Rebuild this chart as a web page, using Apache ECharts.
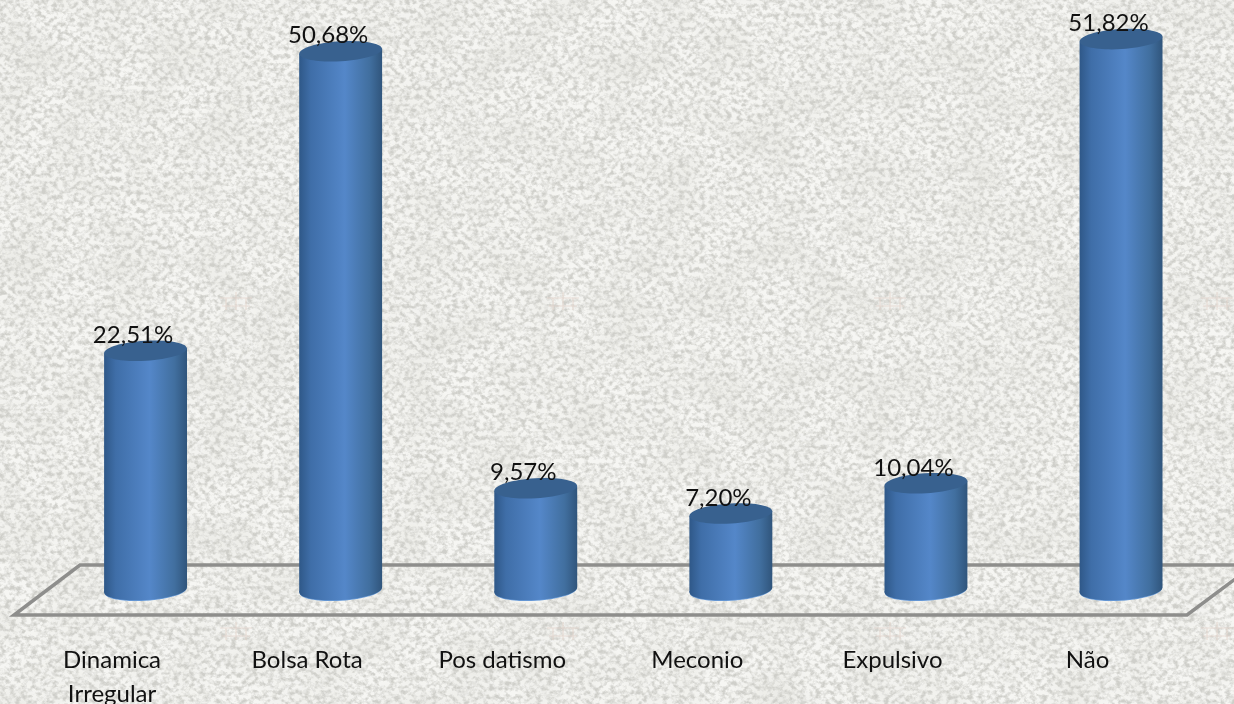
<!DOCTYPE html>
<html><head><meta charset="utf-8">
<style>
html,body{margin:0;padding:0;width:1234px;height:704px;overflow:hidden;background:#f3f3f0}
#bg{position:absolute;left:0;top:0;width:1234px;height:704px}
#main{position:absolute;left:0;top:0;width:1234px;height:704px}
</style>
<script src="https://cdn.jsdelivr.net/npm/echarts@6/dist/echarts.min.js"></script>
</head><body>
<svg id="bg" xmlns="http://www.w3.org/2000/svg">
  <defs>
    <filter id="tex" x="0" y="0" width="100%" height="100%" color-interpolation-filters="sRGB">
      <feTurbulence type="fractalNoise" baseFrequency="0.19 0.22" numOctaves="3" seed="7"/>
      <feColorMatrix type="matrix" values="0 0 0 0 0  0 0 0 0 0  0 0 0 0 0  1 0 0 0 0"/>
      <feComponentTransfer><feFuncA type="linear" slope="3.0" intercept="-1.2"/></feComponentTransfer>
      <feComposite in="SourceGraphic" operator="in"/>
      <feGaussianBlur stdDeviation="0.7"/>
    </filter>
    <filter id="mottle" x="0" y="0" width="100%" height="100%" color-interpolation-filters="sRGB">
      <feTurbulence type="fractalNoise" baseFrequency="0.02 0.025" numOctaves="2" seed="3"/>
      <feColorMatrix type="matrix" values="0 0 0 0 0  0 0 0 0 0  0 0 0 0 0  1 0 0 0 0"/>
      <feComponentTransfer><feFuncA type="linear" slope="1.6" intercept="-0.6"/></feComponentTransfer>
      <feComposite in="SourceGraphic" operator="in"/>
    </filter>
    <pattern id="wm" x="70" y="-20" width="327" height="330" patternUnits="userSpaceOnUse">
      <g fill="none" stroke="#e3d3cb" stroke-width="1.2" opacity="0.7">
        <path d="M150 318H182M152 326H180M156 318V346M176 318V346M150 346H182M166 312V352M156 334H176"/>
      </g>
    </pattern>
  </defs>
  <rect width="1234" height="704" fill="#f6f6f3"/>
  <rect width="1234" height="704" fill="#e8e8e3" filter="url(#mottle)"/>
  <rect width="1234" height="704" fill="#cfcfca" filter="url(#tex)"/>
  <rect width="1234" height="704" fill="url(#wm)"/>
</svg>
<div id="main"></div>
<script>
var categories = ['Dinamica\nIrregular', 'Bolsa Rota', 'Pos datismo', 'Meconio', 'Expulsivo', 'Não'];
var values = [22.51, 50.68, 9.57, 7.20, 10.04, 51.82];
var axisMax = 55;

var chart = echarts.init(document.getElementById('main'), null, {renderer: 'canvas'});
var bodyFill = new echarts.graphic.LinearGradient(0, 0, 1, 0, [
  {offset: 0, color: '#2f5888'},
  {offset: 0.14, color: '#3f6ea8'},
  {offset: 0.55, color: '#5487c9'},
  {offset: 0.85, color: '#416f9f'},
  {offset: 1, color: '#30557c'}
]);
function cylinder(params, api) {
  var i = api.value(0), v = api.value(1);
  var top = api.coord([i, v]), base = api.coord([i, 0]);
  var hw = api.size([1, 0])[0] * 0.2125, ry = 10, tilt = 0.06;
  var x0 = top[0] - hw, x1 = top[0] + hw, dy = hw * Math.tan(tilt);
  var label = v.toFixed(2).replace('.', ',') + '%';
  return {
    type: 'group',
    children: [
      {type: 'ellipse', shape: {cx: 0, cy: 0, rx: hw - 0.5, ry: ry}, x: base[0], y: base[1] + 0.8, rotation: tilt,
       style: {fill: '#6c9edb'}},
      {type: 'ellipse', shape: {cx: 0, cy: 0, rx: hw, ry: ry}, x: base[0], y: base[1], rotation: tilt,
       style: {fill: bodyFill}},
      {type: 'polygon', shape: {points: [[x0, top[1] + dy], [x0, base[1] + dy], [x1, base[1] - dy], [x1, top[1] - dy]]},
       style: {fill: bodyFill}},
      {type: 'ellipse', shape: {cx: 0, cy: 0, rx: hw, ry: ry}, x: top[0], y: top[1], rotation: tilt,
       style: {fill: '#38618f'}},
      {type: 'text', x: top[0] - 12.5, y: top[1] - 15.5, z2: 10,
       style: {text: label, font: '24px Lato', fill: '#111', align: 'center', verticalAlign: 'middle'}}
    ]
  };
}
chart.setOption({
  animation: false,
  backgroundColor: 'transparent',
  graphic: [{
    type: 'polygon', z: 0, silent: true,
    shape: {points: [[14, 615], [1187, 615], [1254, 565], [80, 565]]},
    style: {fill: 'none', stroke: '#8e8e8c', lineWidth: 3.5}
  }],
  grid: {left: 48, right: 15.4, top: 5.3, bottom: 114, outerBoundsMode: 'none'},
  xAxis: {
    type: 'category', data: categories,
    axisLine: {show: false}, axisTick: {show: false}, splitLine: {show: false},
    axisLabel: {interval: 0, hideOverlap: false, margin: 53, padding: [0, 67, 0, 0], color: '#111', fontFamily: 'Lato', fontSize: 24, lineHeight: 34, align: 'center', verticalAlign: 'top'}
  },
  yAxis: {type: 'value', min: 0, max: axisMax, show: false, splitLine: {show: false}},
  series: [{
    type: 'custom', z: 5, clip: false,
    encode: {x: 0, y: 1},
    data: values.map(function (v, i) { return [i, v]; }),
    renderItem: cylinder
  }]
});
</script>
</body></html>
